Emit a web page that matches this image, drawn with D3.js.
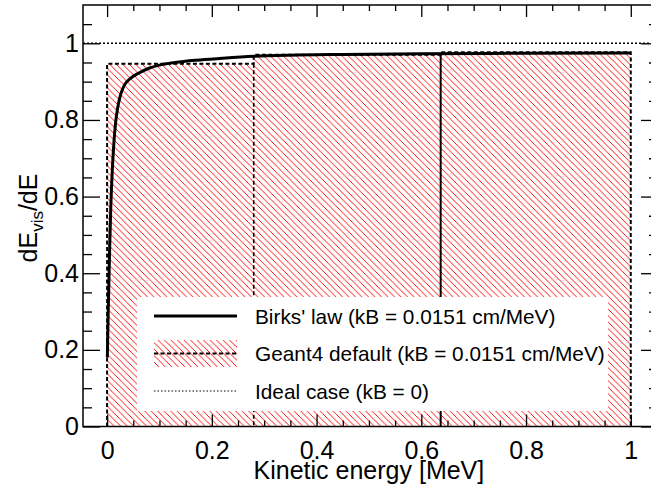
<!DOCTYPE html>
<html lang="en">
  <head>
    <meta charset="UTF-8" />
    <title>birks</title>
    <style>
      body {
        margin: 0;
        background: #fff;
      }
      svg {
        display: block;
        font-family: "Liberation Sans", Arial, sans-serif;
      }
      .axis path {
        display: none;
      }
      .axis line {
        stroke: #000;
        stroke-width: 1.3;
      }
      .axis text {
        font-size: 25px;
        fill: #000;
      }
      .legend text {
        font-size: 20.8px;
      }
    </style>
    <script src="https://cdn.jsdelivr.net/npm/d3@7"></script>
  </head>
  <body>
    <div class="container"></div>
    <script>
      // histogram (Geant4 default)
      const binEdges = [0, 0.28, 0.637, 1];
      const binValues = [0.9465, 0.97, 0.977];

      // Birks' law curve
      const birksE = [0.0005, 0.001, 0.002, 0.003, 0.004, 0.005, 0.007, 0.01, 0.013, 0.016, 0.02, 0.025, 0.03, 0.035, 0.04, 0.05, 0.06, 0.08, 0.1, 0.13, 0.17, 0.22, 0.28, 0.35, 0.45, 0.6, 0.8, 1.0];
      const birksV = [0.18, 0.22, 0.29, 0.35, 0.41, 0.47, 0.57, 0.67, 0.74, 0.79, 0.83, 0.862, 0.882, 0.895, 0.903, 0.914, 0.922, 0.935, 0.943, 0.95, 0.956, 0.961, 0.966, 0.969, 0.971, 0.973, 0.974, 0.975];

      // ideal case
      const idealValue = 1;

      const xMajor = [0, 0.2, 0.4, 0.6, 0.8, 1];
      const xMinor = [0.05, 0.1, 0.15, 0.25, 0.3, 0.35, 0.45, 0.5, 0.55, 0.65, 0.7, 0.75, 0.85, 0.9, 0.95, 1.05];
      const yMajor = [0, 0.2, 0.4, 0.6, 0.8, 1];
      const yMinor = [0.05, 0.1, 0.15, 0.25, 0.3, 0.35, 0.45, 0.5, 0.55, 0.65, 0.7, 0.75, 0.85, 0.9, 0.95, 1.05];

      const legendLabels = [
        "Birks' law (kB = 0.0151 cm/MeV)",
        "Geant4 default (kB = 0.0151 cm/MeV)",
        "Ideal case (kB = 0)",
      ];

      function init() {
        const width = 651,
          height = 485;
        const left = 83,
          right = 658,
          top = 5,
          bottom = 426.5;

        const x = d3.scaleLinear().domain([-0.046, 1.052]).range([left, right]);
        const y = d3.scaleLinear().domain([0, 1.1]).range([bottom, top]);

        const svg = d3
          .select(".container")
          .append("svg")
          .attr("width", width)
          .attr("height", height);

        const defs = svg.append("defs");
        const hatch = defs
          .append("pattern")
          .attr("id", "hatch")
          .attr("patternUnits", "userSpaceOnUse")
          .attr("width", 6.5)
          .attr("height", 6.5);
        hatch
          .append("path")
          .attr("d", "M0,0L6.5,6.5M-1,5.5L1,7.5M5.5,-1L7.5,1")
          .attr("stroke", "#ff0000")
          .attr("stroke-width", 1)
          .attr("shape-rendering", "crispEdges");

        const clip = defs.append("clipPath").attr("id", "frame");
        clip
          .append("rect")
          .attr("x", left)
          .attr("y", top)
          .attr("width", right - left)
          .attr("height", bottom - top);

        const plot = svg.append("g").attr("clip-path", "url(#frame)");

        // histogram bins
        const bins = binValues.map((v, i) => ({ x0: binEdges[i], x1: binEdges[i + 1], v: v }));

        plot
          .selectAll(".bin-fill")
          .data(bins)
          .enter()
          .append("rect")
          .attr("class", "bin-fill")
          .attr("x", (d) => x(d.x0))
          .attr("y", (d) => y(d.v))
          .attr("width", (d) => x(d.x1) - x(d.x0))
          .attr("height", (d) => y(0) - y(d.v))
          .attr("fill", "url(#hatch)");

        // outline: top of every bin plus outer edges
        let outline = "M" + x(binEdges[0]) + "," + y(0);
        bins.forEach((d) => {
          outline += "V" + y(d.v) + "H" + x(d.x1);
        });
        outline += "V" + y(0);
        plot
          .append("path")
          .attr("d", outline)
          .attr("fill", "none")
          .attr("stroke", "#000")
          .attr("stroke-width", 2)
          .attr("stroke-dasharray", "4,2.5");

        // inner bin edges down to zero
        plot
          .selectAll(".bin-edge")
          .data(bins.slice(1))
          .enter()
          .append("line")
          .attr("class", "bin-edge")
          .attr("x1", (d) => x(d.x0))
          .attr("x2", (d) => x(d.x0))
          .attr("y1", (d, i) => y(Math.min(d.v, bins[i].v)))
          .attr("y2", y(0))
          .attr("stroke", "#000")
          .attr("stroke-width", (d, i) => (i === 0 ? 1.6 : 2))
          .attr("stroke-dasharray", (d, i) => (i === 0 ? "4,2.5" : null));

        // ideal line
        plot
          .append("line")
          .attr("x1", left)
          .attr("x2", right)
          .attr("y1", y(idealValue))
          .attr("y2", y(idealValue))
          .attr("stroke", "#000")
          .attr("stroke-width", 1.5)
          .attr("stroke-dasharray", "2,2");

        // Birks curve
        const line = d3
          .line()
          .x((d) => x(d[0]))
          .y((d) => y(d[1]))
          .curve(d3.curveMonotoneX);

        plot
          .append("path")
          .datum(birksE.map((e, i) => [e, birksV[i]]))
          .attr("d", line)
          .attr("fill", "none")
          .attr("stroke", "#000")
          .attr("stroke-width", 3);

        // legend
        const lx0 = 137,
          ly0 = 297;
        const legend = svg.append("g").attr("class", "legend");
        legend
          .append("rect")
          .attr("x", lx0)
          .attr("y", ly0)
          .attr("width", 471)
          .attr("height", 114)
          .attr("fill", "#fff");

        const rowY = [316, 353.5, 391];
        const sx0 = 154,
          sx1 = 237;

        legend
          .append("line")
          .attr("x1", sx0)
          .attr("x2", sx1)
          .attr("y1", rowY[0])
          .attr("y2", rowY[0])
          .attr("stroke", "#000")
          .attr("stroke-width", 3);

        legend
          .append("rect")
          .attr("x", sx0)
          .attr("y", rowY[1] - 13.5)
          .attr("width", sx1 - sx0)
          .attr("height", 27)
          .attr("fill", "url(#hatch)");
        legend
          .append("line")
          .attr("x1", sx0)
          .attr("x2", sx1)
          .attr("y1", rowY[1])
          .attr("y2", rowY[1])
          .attr("stroke", "#000")
          .attr("stroke-width", 2)
          .attr("stroke-dasharray", "4,2.5");

        legend
          .append("line")
          .attr("x1", sx0)
          .attr("x2", sx1)
          .attr("y1", rowY[2])
          .attr("y2", rowY[2])
          .attr("stroke", "#000")
          .attr("stroke-width", 1.2)
          .attr("stroke-dasharray", "1.5,2");

        legend
          .selectAll("text")
          .data(legendLabels)
          .enter()
          .append("text")
          .attr("x", 255)
          .attr("y", (d, i) => rowY[i] + 7.5)
          .text((d) => d);

        // axes
        svg
          .append("g")
          .attr("class", "axis")
          .attr("transform", "translate(0," + bottom + ")")
          .call(d3.axisBottom(x).tickValues(xMajor).tickSize(-12).tickPadding(15).tickFormat(d3.format("~g")));
        svg
          .append("g")
          .attr("class", "axis")
          .attr("transform", "translate(0," + bottom + ")")
          .call(d3.axisBottom(x).tickValues(xMinor).tickSize(-6).tickFormat(""));
        svg
          .append("g")
          .attr("class", "axis")
          .attr("transform", "translate(0," + top + ")")
          .call(d3.axisTop(x).tickValues(xMajor).tickSize(-12).tickFormat(""));
        svg
          .append("g")
          .attr("class", "axis")
          .attr("transform", "translate(0," + top + ")")
          .call(d3.axisTop(x).tickValues(xMinor).tickSize(-6).tickFormat(""));

        svg
          .append("g")
          .attr("class", "axis")
          .attr("transform", "translate(" + left + ",0)")
          .call(d3.axisLeft(y).tickValues(yMajor).tickSize(-17).tickPadding(4).tickFormat(d3.format("~g")));
        svg
          .append("g")
          .attr("class", "axis")
          .attr("transform", "translate(" + left + ",0)")
          .call(d3.axisLeft(y).tickValues(yMinor).tickSize(-9).tickFormat(""));
        svg
          .append("g")
          .attr("class", "axis")
          .attr("transform", "translate(" + right + ",0)")
          .call(d3.axisRight(y).tickValues(yMajor).tickSize(-17).tickFormat(""));
        svg
          .append("g")
          .attr("class", "axis")
          .attr("transform", "translate(" + right + ",0)")
          .call(d3.axisRight(y).tickValues(yMinor).tickSize(-9).tickFormat(""));

        // frame
        svg
          .append("rect")
          .attr("x", left)
          .attr("y", top)
          .attr("width", right - left)
          .attr("height", bottom - top)
          .attr("fill", "none")
          .attr("stroke", "#000")
          .attr("stroke-width", 1.5);

        // axis titles
        svg
          .append("text")
          .attr("x", x(0.5))
          .attr("y", 479)
          .attr("text-anchor", "middle")
          .attr("font-size", 25)
          .text("Kinetic energy [MeV]");

        const yt = svg
          .append("text")
          .attr("transform", "translate(37,218) rotate(-90)")
          .attr("text-anchor", "middle")
          .attr("font-size", 25);
        yt.append("tspan").text("dE");
        yt.append("tspan").attr("font-size", 17).attr("dy", 6).text("vis");
        yt.append("tspan").attr("dy", -6).text("/dE");
      }
      init();
    </script>
  </body>
</html>
